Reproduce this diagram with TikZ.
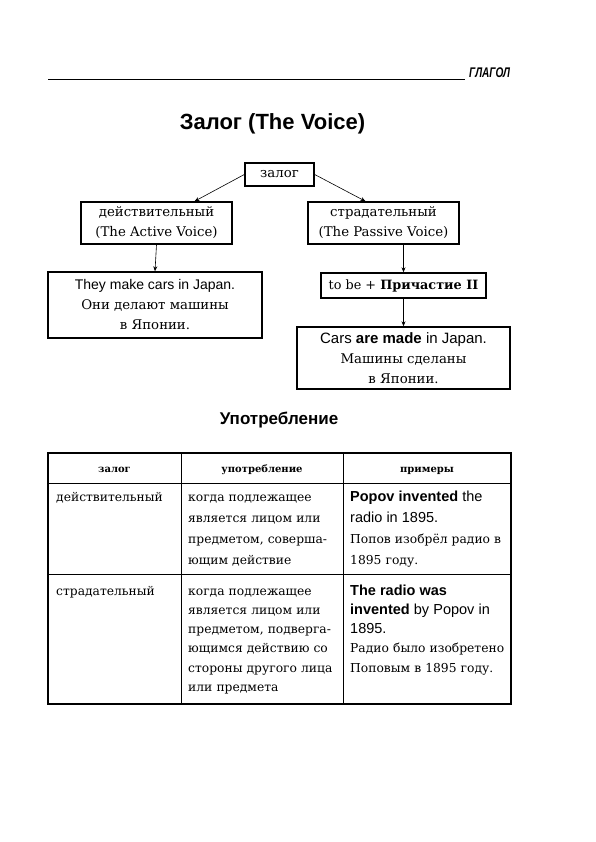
\documentclass[tikz,border=0pt]{standalone}
\usepackage{fontspec}
\setmainfont{DejaVu Serif}
\setsansfont{Liberation Sans}
\newfontfamily\chapterfont[FakeStretch=0.72]{Liberation Sans}
\usetikzlibrary{arrows.meta}
\begin{document}
\begin{tikzpicture}[x=1pt, y=-1pt,
		box/.style = {draw, line width=1.4pt, align=center, inner sep=0pt, font=\fontsize{13.3}{20}\selectfont},
		arr/.style = {-{Stealth[length=5pt, width=4pt]}, line width=0.6pt},
		cell/.style = {anchor=base west, align=left, inner sep=0pt, font=\fontsize{12.3}{19.3}\selectfont},
		head/.style = {anchor=base, font=\bfseries\fontsize{10}{12}\selectfont}]
		\useasboundingbox (0,0) rectangle (595,842);
		\draw [line width=0.9pt] (48,79) -- (465,79);
		\node [anchor=base west, inner sep=0pt, font=\chapterfont\bfseries\itshape\fontsize{14}{14}\selectfont] (chapter) at (469,78) {ГЛАГОЛ};
		\node [font=\sffamily\bfseries\fontsize{22}{24}\selectfont] (title) at (272.5,124) {Залог (The Voice)};
		\node [box, minimum width=69pt, minimum height=23pt] (zalog) at (279.5,174.5) {залог};
		\node [box, minimum width=151pt, minimum height=42pt] (active) at (156.5,223) {действительный\\(The Active Voice)};
		\node [box, minimum width=151pt, minimum height=42pt] (passive) at (383.5,223) {страдательный\\(The Passive Voice)};
		\node [box, minimum width=214pt, minimum height=66pt] (activeex) at (155,305) {\textsf{\fontsize{14}{20}\selectfont They make cars in Japan.}\\Они делают машины\\в Японии.};
		\node [box, minimum width=165pt, minimum height=25pt, font=\fontsize{12.8}{20}\selectfont] (tobe) at (403.5,285.5) {to be + \textbf{Причастие II}};
		\node [box, minimum width=213pt, minimum height=62pt] (passiveex) at (403.5,358) {\textsf{\fontsize{15}{20}\selectfont Cars \textbf{are made} in Japan.}\\Машины сделаны\\в Японии.};
		\draw [arr] (zalog.west) -- ([xshift=38pt]active.north);
		\draw [arr] (zalog.east) -- ([xshift=-18pt]passive.north);
		\draw [arr] (active.south) -- (activeex.north);
		\draw [arr] (tobe.north |- passive.south) -- (tobe.north);
		\draw [arr] (tobe.south) -- (passiveex.north);
		\node [font=\sffamily\bfseries\fontsize{17}{20}\selectfont] (usage) at (279,420) {Употребление};
		\draw [line width=1.5pt] (48,453) rectangle (511,704);
		\draw [line width=0.8pt] (48,483) -- (511,483) (48,574) -- (511,574) (181,453) -- (181,704) (343,453) -- (343,704);
		\node [head] (h1) at (114.5,472) {залог};
		\node [head] (h2) at (262,472) {употребление};
		\node [head] (h3) at (427,472) {примеры};
		\node [cell, text width=120pt, font=\fontsize{12.3}{21}\selectfont] (a1) at (56,501) {действительный};
		\node [cell, text width=150pt, font=\fontsize{12.3}{21}\selectfont] (a2) at (188,501) {когда подлежащее\\является лицом или\\предметом, соверша-\\ющим действие};
		\node [cell, text width=160pt, font=\fontsize{12.3}{21}\selectfont] (a3) at (350,501) {\textsf{\fontsize{14.5}{21}\selectfont\textbf{Popov invented} the}\\\textsf{\fontsize{14.5}{21}\selectfont radio in 1895.}\\Попов изобрёл радио в\\1895 году.};
		\node [cell, text width=120pt] (b1) at (56,595) {страдательный};
		\node [cell, text width=150pt] (b2) at (188,595) {когда подлежащее\\является лицом или\\предметом, подверга-\\ющимся действию со\\стороны другого лица\\или предмета};
		\node [cell, text width=160pt] (b3) at (350,595) {\textsf{\fontsize{14.5}{19.3}\selectfont\textbf{The radio was}}\\\textsf{\fontsize{14.5}{19.3}\selectfont\textbf{invented} by Popov in}\\\textsf{\fontsize{14.5}{19.3}\selectfont 1895.}\\Радио было изобретено\\Поповым в 1895 году.};
	\end{tikzpicture}
\end{document}
